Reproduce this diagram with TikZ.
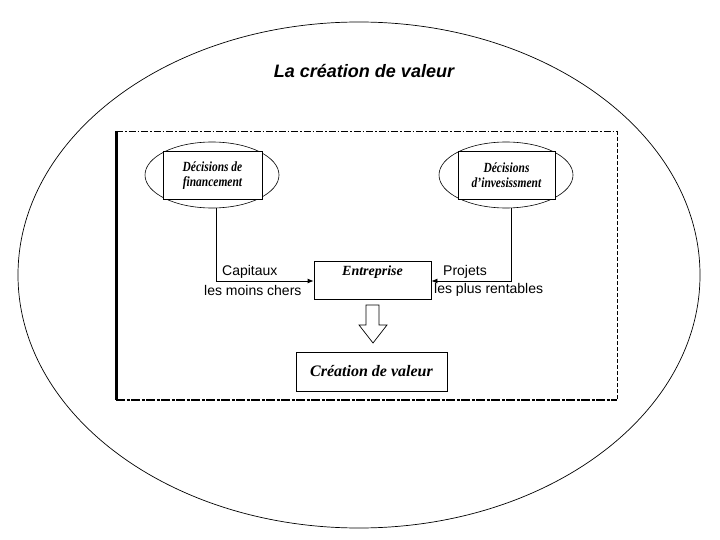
\documentclass[tikz,border=0pt]{standalone}
\usepackage{fontspec}
\setmainfont{Liberation Serif}
\newfontfamily\arialf{Liberation Sans}
\usetikzlibrary{shapes.geometric,arrows.meta}
\newcommand{\condtxt}[1]{\scalebox{0.82}[1]{#1}}
\begin{document}
\begin{tikzpicture}[x=1pt,y=-1pt,
  decell/.style={draw,ellipse,line width=0.6pt,minimum width=134pt,minimum height=66pt,inner sep=0pt},
  decbox/.style={draw,fill=white,line width=0.7pt,minimum width=99pt,minimum height=48pt,inner sep=0pt,align=center,
    font=\fontsize{14}{16}\selectfont\bfseries\itshape},
  mainbox/.style={draw,fill=white,line width=0.8pt,inner sep=0pt},
  lbl/.style={font=\arialf\fontsize{14}{15}\selectfont,inner sep=0pt,anchor=west},
  conn/.style={line width=0.8pt},
  tip/.style={-{Latex[length=6pt,width=5pt]}}
]
\useasboundingbox (0,0) rectangle (720,540);
% outer ellipse
\node[draw,ellipse,line width=0.7pt,minimum width=682pt,minimum height=506pt,inner sep=0pt] (outer) at (359,275) {};
% title
\node[font=\arialf\fontsize{18}{20}\selectfont\bfseries\itshape] (title) at (364,71) {La création de valeur};
% frame
\coordinate (ftl) at (116,131);
\coordinate (ftr) at (617,131);
\coordinate (fbl) at (116,400);
\coordinate (fbr) at (617,400);
\draw[line width=0.7pt,dash pattern=on 7pt off 2pt on 1.5pt off 2pt] (ftl) -- (ftr);
\draw[line width=0.7pt,dash pattern=on 4pt off 2pt] (ftr) -- (fbr);
\draw[line width=2pt,dash pattern=on 9pt off 1.5pt on 3pt off 1.5pt] (fbl) -- (fbr);
\draw[line width=3pt] (ftl) -- (fbl);
% decision nodes
\node[decell] (ellF) at (212,175) {};
\node[decbox] (decF) at (212.5,175.5) {\condtxt{Décisions de}\\[-1pt]\condtxt{financement}};
\node[decell] (ellI) at (506,175) {};
\node[decbox,minimum width=97pt] (decI) at (506.5,175) {\condtxt{Décisions}\\[-1pt]\condtxt{d’invesissment}};
% entreprise
\node[mainbox,minimum width=117pt,minimum height=38pt] (ent) at (372.5,280) {};
\node[font=\fontsize{14}{15}\selectfont\bfseries\itshape,inner sep=0pt] (entt) at (372.5,272) {Entreprise};
% creation
\node[mainbox,minimum width=151pt,minimum height=39pt,font=\fontsize{16}{17}\selectfont\bfseries\itshape] (cre) at (371.5,371.5) {Création de valeur};
% connectors
\coordinate (lc) at (216,281);
\coordinate (rc) at (511,281);
\draw[conn,tip] (ellF.south -| lc) -- (lc) -- (ent.west |- lc);
\draw[conn,tip] (ellI.south -| rc) -- (rc) -- (ent.east |- rc);
% labels
\node[lbl] (cap) at (222,272) {Capitaux};
\node[lbl] (lmc) at (204,290) {les moins chers};
\node[lbl] (proj) at (443,272) {Projets};
\node[lbl] (lpr) at (434,290) {les plus rentables};
% hollow arrow
\draw[line width=0.7pt,fill=white] (366,305) -- (379,305) -- (379,325) -- (387,325) -- (373,343) -- (359,325) -- (366,325) -- cycle;
\end{tikzpicture}
\end{document}
